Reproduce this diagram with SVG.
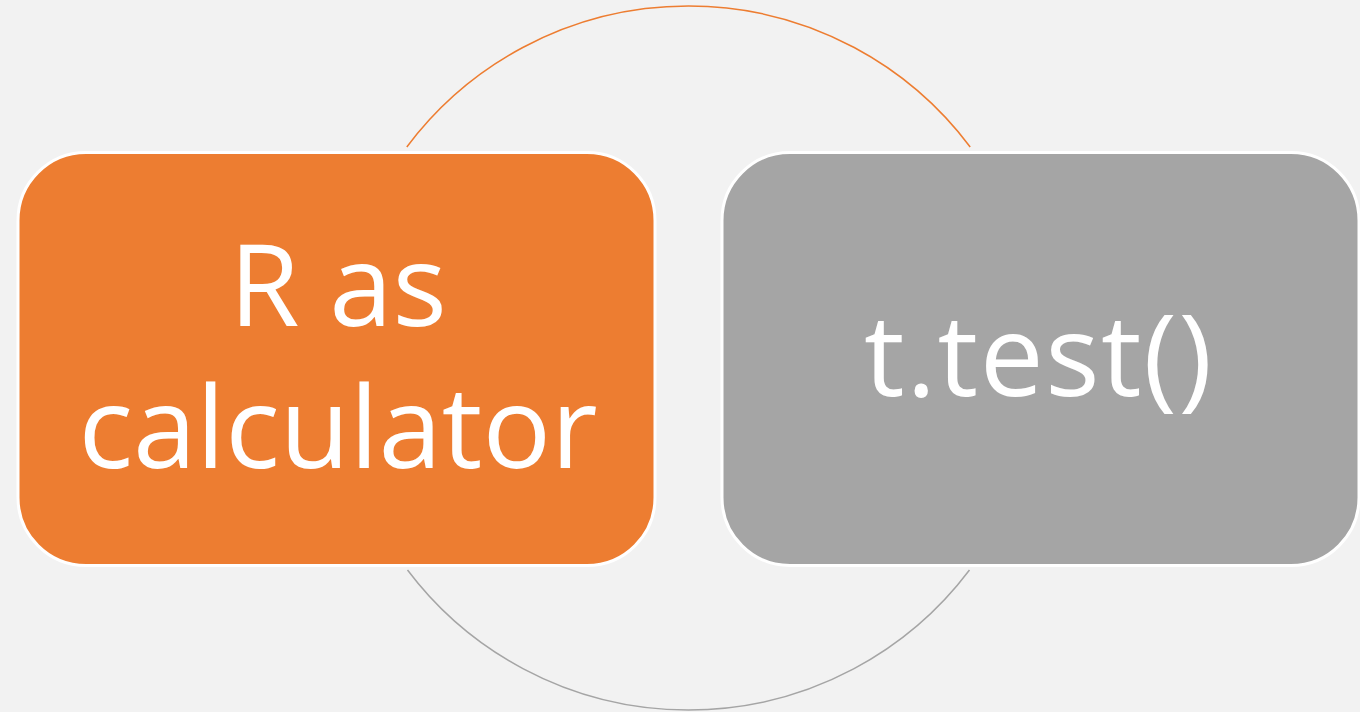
<svg xmlns="http://www.w3.org/2000/svg" width="1360" height="712" viewBox="0 0 1360 712">
<style>
.box{stroke:#ffffff;stroke-width:3}
.lbl{font-family:"Open Sans","Liberation Sans",sans-serif;font-size:114px;fill:#ffffff;text-anchor:middle}
.arc{fill:none;stroke-width:1.5}
</style>
<rect width="1360" height="712" fill="#f2f2f2"/>
<g id="connectors">
<path class="arc" stroke="#ed7d31" d="M 406.8 147 A 352 352 0 0 1 970.2 147"/>
<path class="arc" stroke="#a5a5a5" d="M 969.5 570 A 352 352 0 0 1 407.5 570"/>
</g>
<g id="node-r-calculator">
<rect class="box" x="18" y="152.5" width="637" height="413" rx="68" ry="68" fill="#ed7d31"/>
<text class="lbl" x="338" y="326">R as</text>
<text class="lbl" x="338" y="468">calculator</text>
</g>
<g id="node-ttest">
<rect class="box" x="722" y="152.5" width="637" height="413" rx="68" ry="68" fill="#a5a5a5"/>
<text class="lbl" x="1038" y="396" textLength="348" lengthAdjust="spacing">t.test()</text>
</g>
</svg>
